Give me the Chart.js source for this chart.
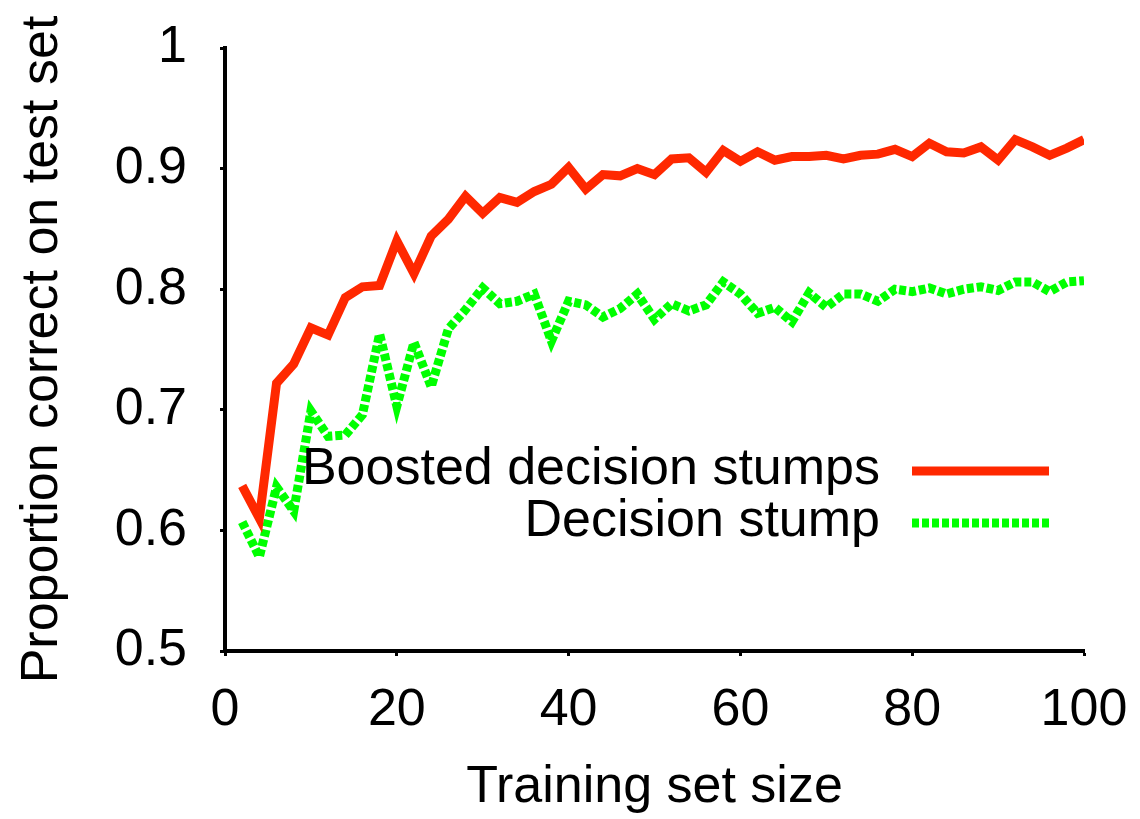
<!DOCTYPE html>
<html>
<head>
<meta charset="utf-8">
<script src="https://cdn.jsdelivr.net/npm/chart.js@4.4.1/dist/chart.umd.min.js"></script>
<style>
  html, body { margin: 0; padding: 0; background: #fff; }
  #wrap { width: 1140px; height: 819px; position: relative; }
</style>
</head>
<body>
<div id="wrap"><canvas id="chart" width="1140" height="819"></canvas></div>
<script>
// ── Data ─────────────────────────────────────────────
const SIZES = [2, 4, 6, 8, 10, 12, 14, 16, 18, 20, 22, 24, 26, 28, 30, 32, 34, 36, 38, 40,
               42, 44, 46, 48, 50, 52, 54, 56, 58, 60, 62, 64, 66, 68, 70, 72, 74, 76, 78, 80,
               82, 84, 86, 88, 90, 92, 94, 96, 98, 100];
const BOOSTED = [0.637, 0.610, 0.722, 0.738, 0.768, 0.762, 0.793, 0.802, 0.803, 0.840,
                 0.813, 0.844, 0.858, 0.877, 0.863, 0.876, 0.872, 0.881, 0.887, 0.901,
                 0.883, 0.895, 0.894, 0.900, 0.895, 0.908, 0.909, 0.897, 0.915, 0.906,
                 0.914, 0.907, 0.910, 0.910, 0.911, 0.908, 0.911, 0.912, 0.916, 0.910,
                 0.921, 0.914, 0.913, 0.918, 0.907, 0.924, 0.918, 0.911, 0.917, 0.924];
const STUMP =   [0.607, 0.578, 0.636, 0.616, 0.699, 0.678, 0.679, 0.696, 0.763, 0.703,
                 0.756, 0.719, 0.767, 0.783, 0.801, 0.788, 0.790, 0.796, 0.757, 0.790,
                 0.787, 0.777, 0.784, 0.796, 0.775, 0.788, 0.782, 0.787, 0.806, 0.796,
                 0.780, 0.785, 0.773, 0.797, 0.785, 0.796, 0.796, 0.790, 0.800, 0.798,
                 0.801, 0.796, 0.800, 0.802, 0.799, 0.806, 0.806, 0.798, 0.806, 0.807];
const X_TICKS = [0, 20, 40, 60, 80, 100];
const Y_TICKS = [0.5, 0.6, 0.7, 0.8, 0.9, 1];
const SERIES_NAMES = ['Boosted decision stumps', 'Decision stump'];

const RED = '#ff2800';
const GREEN = '#00ff00';
const FONT = { family: '"Liberation Sans", Arial, Helvetica, sans-serif', size: 52 };

// Legend drawn inside the plot: text right-aligned, sample line on the right
const innerLegend = {
  id: 'innerLegend',
  afterDatasetsDraw(chart) {
    const { ctx, chartArea } = chart;
    const x1 = chartArea.right - 172, x2 = chartArea.right - 35;
    const textX = chartArea.right - 204;
    const rows = [chartArea.top + 423, chartArea.top + 475];
    ctx.save();
    ctx.font = `${FONT.size}px ${FONT.family}`;
    ctx.textAlign = 'right';
    ctx.textBaseline = 'middle';
    ctx.fillStyle = '#000';
    chart.data.datasets.forEach((ds, i) => {
      const y = rows[i];
      ctx.fillText(SERIES_NAMES[i], textX, y - 1);
      ctx.strokeStyle = ds.borderColor;
      ctx.lineWidth = ds.borderWidth;
      ctx.lineCap = 'butt';
      ctx.setLineDash(ds.borderDash || []);
      ctx.beginPath();
      ctx.moveTo(x1, y);
      ctx.lineTo(x2, y);
      ctx.stroke();
    });
    ctx.restore();
  }
};

// keep the plot box fixed: no extra padding for overhanging tick labels
function noEdgePadding(s) {
  s.paddingLeft = 0; s.paddingRight = 0; s.paddingTop = 0; s.paddingBottom = 0;
}

new Chart(document.getElementById('chart'), {
  type: 'line',
  plugins: [innerLegend],
  data: {
    datasets: [
      {
        label: SERIES_NAMES[0],
        data: SIZES.map((x, i) => ({ x, y: BOOSTED[i] })),
        borderColor: RED,
        borderWidth: 9,
        borderJoinStyle: 'miter',
        pointRadius: 0,
        tension: 0,
        fill: false,
      },
      {
        label: SERIES_NAMES[1],
        data: SIZES.map((x, i) => ({ x, y: STUMP[i] })),
        borderColor: GREEN,
        borderWidth: 9,
        borderDash: [7, 3],
        borderJoinStyle: 'miter',
        pointRadius: 0,
        tension: 0,
        fill: false,
      }
    ]
  },
  options: {
    responsive: false,
    animation: false,
    devicePixelRatio: 1,
    layout: { padding: { left: 0, top: 48, right: 56, bottom: 0 } },
    plugins: { legend: { display: false }, tooltip: { enabled: false } },
    scales: {
      x: {
        type: 'linear',
        min: 0, max: 100,
        afterBuildTicks: s => { s.ticks = X_TICKS.map(v => ({ value: v })); },
        afterFit: s => { s.height = 168; noEdgePadding(s); },
        grid: { drawOnChartArea: false, drawTicks: true, tickLength: 5, tickWidth: 3, tickColor: '#000' },
        border: { display: true, color: '#000', width: 4 },
        ticks: { font: FONT, color: '#000', padding: 23, maxRotation: 0, autoSkip: false },
        title: { display: true, text: 'Training set size', font: FONT, color: '#000', padding: { top: 6, bottom: 0 } }
      },
      y: {
        type: 'linear',
        min: 0.5, max: 1,
        afterBuildTicks: s => { s.ticks = Y_TICKS.map(v => ({ value: v })); },
        afterFit: s => { s.width = 225; noEdgePadding(s); },
        grid: { drawOnChartArea: false, drawTicks: true, tickLength: 5, tickWidth: 3, tickColor: '#000' },
        border: { display: true, color: '#000', width: 4 },
        ticks: { font: FONT, color: '#000', padding: 33, autoSkip: false, callback: v => String(+v.toFixed(1)) },
        title: { display: true, text: 'Proportion correct on test set', font: FONT, color: '#000', padding: { top: 11, bottom: 0 } }
      }
    }
  }
});
</script>
</body>
</html>
